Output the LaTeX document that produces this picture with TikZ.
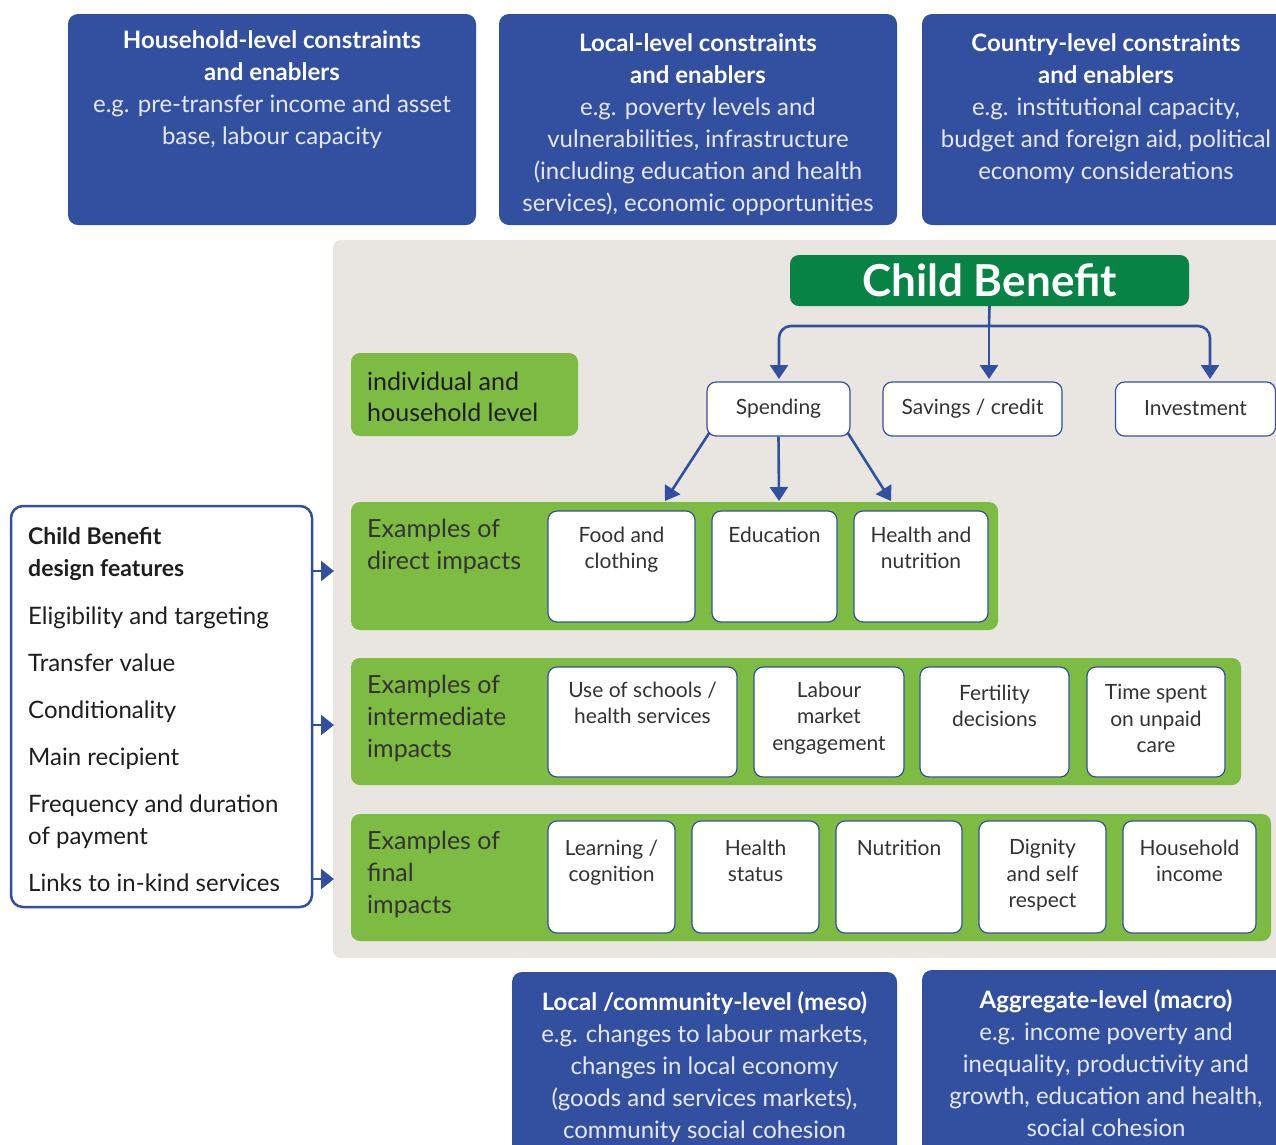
\documentclass[tikz,border=0pt]{standalone}
\usepackage{fontspec}
\setmainfont{Lato}
\usetikzlibrary{arrows.meta,fit}
\definecolor{cbblue}{RGB}{51,79,160}
\definecolor{cbdark}{RGB}{7,132,69}
\definecolor{cbgreen}{RGB}{125,187,66}
\definecolor{cbgray}{RGB}{233,230,225}
\definecolor{cbtext}{RGB}{51,51,51}
\definecolor{cbdeep}{RGB}{30,30,30}
\definecolor{cblite}{RGB}{228,232,245}
\begin{document}
\begin{tikzpicture}[x=1pt,y=-1pt,
  bluebox/.style={fill=cbblue, rounded corners=10pt, inner sep=0pt},
  greenrow/.style={fill=cbgreen, rounded corners=9pt, inner sep=0pt},
  whitebox/.style={fill=white, draw=cbblue, line width=1.2pt, rounded corners=9pt, inner sep=0pt},
  hdtxt/.style={align=center, inner sep=0pt, font=\fontsize{24}{32}\selectfont, text=white},
  rowlbl/.style={align=left, inner sep=0pt, font=\fontsize{25}{32}\selectfont, text=cbtext, anchor=north west},
  boxtxt/.style={align=center, inner sep=0pt, font=\fontsize{21}{26.5}\selectfont, text=cbtext, anchor=north},
  choice/.style={fill=white, draw=cbblue, line width=1.2pt, rounded corners=9pt, inner sep=0pt, font=\fontsize{21}{26}\selectfont, text=cbtext},
  item/.style={inner sep=0pt, anchor=base west, font=\fontsize{24}{32}\selectfont, text=cbdeep},
  arr/.style={draw=cbblue, line width=2.6pt, -{Triangle[width=18pt,length=14pt]}},
  arrs/.style={draw=cbblue, line width=2.6pt, -{Triangle[width=20pt,length=13pt]}},
  ln/.style={draw=cbblue, line width=2.6pt}
]
\useasboundingbox (0,0) rectangle (1276,1144);
\clip (0,0) rectangle (1276,1144);

% top constraint boxes
\node[bluebox, fit={(68,14) (476,225)}] (hh) {};
\node[hdtxt, anchor=north] (hht) at ([yshift=-17pt]hh.north)
  {\textbf{Household-level constraints}\\\textbf{and enablers}\\
   \textcolor{cblite}{e.g. pre-transfer income and asset}\\
   \textcolor{cblite}{base, labour capacity}};
\node[bluebox, fit={(499,14) (897,225)}] (loc) {};
\node[hdtxt, anchor=north] (loct) at ([yshift=-20pt]loc.north)
  {\textbf{Local-level constraints}\\\textbf{and enablers}\\
   \textcolor{cblite}{e.g. poverty levels and}\\
   \textcolor{cblite}{vulnerabilities, infrastructure}\\
   \textcolor{cblite}{(including education and health}\\
   \textcolor{cblite}{services), economic opportunities}};
\node[bluebox, fit={(922,14) (1290,225)}] (cty) {};
\node[hdtxt, anchor=north] (ctyt) at ([yshift=-20pt]cty.north)
  {\textbf{Country-level constraints}\\\textbf{and enablers}\\
   \textcolor{cblite}{e.g. institutional capacity,}\\
   \textcolor{cblite}{budget and foreign aid, political}\\
   \textcolor{cblite}{economy considerations}};

% grey background
\node[fill=cbgray, rounded corners=8pt, inner sep=0pt, fit={(333,240) (1300,958)}] (bg) {};

% child benefit
\node[fill=cbdark, rounded corners=9pt, inner sep=0pt, minimum width=399pt, minimum height=51pt,
  text=white, font=\fontsize{44}{50}\selectfont\bfseries] (cb) at (989.5,280.5) {\raisebox{-2pt}{Child Benefit}};

% level label
\node[greenrow, fit={(351,353) (578,436)}] (lvl) {};
\node[rowlbl, anchor=west, text=cbdeep, font=\fontsize{25}{31}\selectfont] (lvlt) at (367,397) {individual and\\household level};

% choices
\node[choice, minimum width=143pt, minimum height=54pt] (spend) at (778.5,409) {Spending};
\node[choice, minimum width=179pt, minimum height=54pt] (sav) at (972.5,409) {\raisebox{-2pt}{Savings / credit}};
\node[choice, minimum width=160pt, minimum height=54pt] (inv) at (1195.5,409) {\raisebox{2pt}{Investment}};

\coordinate (br) at (989,326);
\coordinate (a1) at (779,379);
\coordinate (a2) at (989,379);
\coordinate (a3) at (1210,379);
\draw[ln] (cb.south) -- (br);
\draw[arr, rounded corners=12pt] (br) -| (a1);
\draw[arr, rounded corners=12pt] (br) -| (a3);
\draw[arr] (br) -- (a2);

% rows
\node[greenrow, fit={(351,502) (998,630)}] (row1) {};
\node[greenrow, fit={(351,658) (1241,785)}] (row2) {};
\node[greenrow, fit={(351,814) (1271,941)}] (row3) {};
\node[rowlbl] (r1t) at (367,519) {Examples of\\direct impacts};
\node[rowlbl] (r2t) at (367,675) {Examples of\\intermediate\\impacts};
\node[rowlbl] (r3t) at (367,831) {Examples of\\final\\impacts};

% spending arrows
\coordinate (s1) at (665,501);
\coordinate (s2) at (779,501);
\coordinate (s3) at (891,501);
\draw[arr] ([xshift=3pt,yshift=4pt]spend.south west) -- (s1);
\draw[arr] (spend.south) -- (s2);
\draw[arr] ([xshift=-3pt,yshift=4pt]spend.south east) -- (s3);

% row 1 boxes
\node[whitebox, fit={(548,511) (695,622)}] (b11) {};
\node[whitebox, fit={(712,511) (837,622)}] (b12) {};
\node[whitebox, fit={(854,511) (988,622)}] (b13) {};
\node[boxtxt] at ([yshift=-16pt]b11.north) {Food and\\clothing};
\node[boxtxt] at ([yshift=-16pt]b12.north) {Education};
\node[boxtxt] at ([yshift=-16pt]b13.north) {Health and\\nutrition};

% row 2 boxes
\node[whitebox, fit={(548,667) (737,777)}] (b21) {};
\node[whitebox, fit={(754,667) (904,777)}] (b22) {};
\node[whitebox, fit={(920,667) (1069,777)}] (b23) {};
\node[whitebox, fit={(1087,667) (1225,777)}] (b24) {};
\node[boxtxt] at ([yshift=-15pt]b21.north) {Use of schools /\\health services};
\node[boxtxt] at ([yshift=-15pt]b22.north) {Labour\\market\\engagement};
\node[boxtxt] at ([yshift=-18pt]b23.north) {Fertility\\decisions};
\node[boxtxt] at ([yshift=-18pt]b24.north) {Time spent\\on unpaid\\care};

% row 3 boxes
\node[whitebox, fit={(548,821) (675,933)}] (b31) {};
\node[whitebox, fit={(692,821) (819,933)}] (b32) {};
\node[whitebox, fit={(836,821) (962,933)}] (b33) {};
\node[whitebox, fit={(979,821) (1106,933)}] (b34) {};
\node[whitebox, fit={(1123,821) (1256,933)}] (b35) {};
\node[boxtxt] at ([yshift=-19pt]b31.north) {Learning /\\cognition};
\node[boxtxt] at ([yshift=-19pt]b32.north) {Health\\status};
\node[boxtxt] at ([yshift=-19pt]b33.north) {Nutrition};
\node[boxtxt] at ([yshift=-19pt]b34.north) {Dignity\\and self\\respect};
\node[boxtxt] at ([yshift=-19pt]b35.north) {Household\\income};

% design features
\node[fill=white, draw=cbblue, line width=2.5pt, rounded corners=12pt, inner sep=0pt, fit={(11,506) (312,907)}] (des) {};
\node[inner sep=0pt, anchor=north west, align=left, text=cbdeep, font=\fontsize{23}{32}\selectfont\bfseries] (dest) at (28,527) {Child Benefit\\design features};
\node[item] (i1) at (28,624) {Eligibility and targeting};
\node[item] (i2) at (28,671) {Transfer value};
\node[item] (i3) at (28,718) {Conditionality};
\node[item] (i4) at (28,765) {Main recipient};
\node[item] (i5) at (28,812) {Frequency and duration};
\node[item] (i5b) at (28,844) {of payment};
\node[item] (i6) at (28,891) {Links to in-kind services};

\coordinate (d1) at (312,571);
\coordinate (d2) at (312,725);
\coordinate (d3) at (312,879);
\coordinate (e1) at (334,571);
\coordinate (e2) at (334,725);
\coordinate (e3) at (334,879);
\draw[arrs] (d1) -- (e1);
\draw[arrs] (d2) -- (e2);
\draw[arrs] (d3) -- (e3);

% bottom boxes
\node[bluebox, fit={(512,972) (897,1170)}] (meso) {};
\node[hdtxt, anchor=north] (mesot) at ([yshift=-20pt]meso.north)
  {\textbf{Local /community-level (meso)}\\
   \textcolor{cblite}{e.g. changes to labour markets,}\\
   \textcolor{cblite}{changes in local economy}\\
   \textcolor{cblite}{(goods and services markets),}\\
   \textcolor{cblite}{community social cohesion}};
\node[bluebox, fit={(922,970) (1290,1170)}] (macro) {};
\node[hdtxt, anchor=north] (macrot) at ([yshift=-20pt]macro.north)
  {\textbf{Aggregate-level (macro)}\\
   \textcolor{cblite}{e.g. income poverty and}\\
   \textcolor{cblite}{inequality, productivity and}\\
   \textcolor{cblite}{growth, education and health,}\\
   \textcolor{cblite}{social cohesion}};
\end{tikzpicture}
\end{document}
